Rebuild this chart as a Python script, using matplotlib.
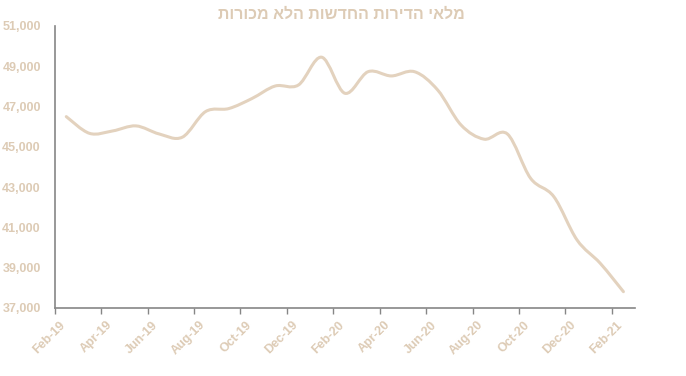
import matplotlib
matplotlib.use("Agg")
import matplotlib.pyplot as plt
import numpy as np
from matplotlib.path import Path
from matplotlib.patches import PathPatch

title = "מלאי הדירות החדשות הלא מכורות"

months = ["Feb-19", "Mar-19", "Apr-19", "May-19", "Jun-19", "Jul-19", "Aug-19",
          "Sep-19", "Oct-19", "Nov-19", "Dec-19", "Jan-20", "Feb-20", "Mar-20",
          "Apr-20", "May-20", "Jun-20", "Jul-20", "Aug-20", "Sep-20", "Oct-20",
          "Nov-20", "Dec-20", "Jan-21", "Feb-21"]
values = [46500, 45670, 45790, 46040, 45640, 45480, 46750, 46900, 47400, 48020,
          48070, 49450, 47660, 48730, 48520, 48730, 47820, 46090, 45380, 45640,
          43440, 42530, 40380, 39220, 37810]
yticks = [37000, 39000, 41000, 43000, 45000, 47000, 49000, 51000]

LINE = "#E3D2BE"
TEXT = "#DDCBB5"
SPINE = "#868686"

fig = plt.figure(figsize=(6.86, 3.76), dpi=100)
ax = fig.add_axes([0.0797, 0.1809, 0.8460, 0.7500])

x = np.arange(len(values), dtype=float)
y = np.array(values, dtype=float)

# Smoothed line (Catmull-Rom style Bezier, like spreadsheet smoothing)
verts = [(x[0], y[0])]
codes = [Path.MOVETO]
n = len(x)
for i in range(n - 1):
    p0 = (x[i - 1], y[i - 1]) if i > 0 else (x[i], y[i])
    p1 = (x[i], y[i])
    p2 = (x[i + 1], y[i + 1])
    p3 = (x[i + 2], y[i + 2]) if i + 2 < n else (x[i + 1], y[i + 1])
    c1 = (p1[0] + (p2[0] - p0[0]) / 6, p1[1] + (p2[1] - p0[1]) / 6)
    c2 = (p2[0] - (p3[0] - p1[0]) / 6, p2[1] - (p3[1] - p1[1]) / 6)
    verts += [c1, c2, p2]
    codes += [Path.CURVE4] * 3
patch = PathPatch(Path(verts, codes), facecolor="none", edgecolor=LINE,
                  lw=2.2, capstyle="round", joinstyle="round")
ax.add_patch(patch)

ax.set_xlim(-0.5, len(values) - 0.5)
ax.set_ylim(37000, 51000)

tick_pos = np.arange(-0.5, len(values) - 0.5, 2)
ax.set_xticks(tick_pos)
ax.set_xticklabels([])
for p in tick_pos:
    ax.annotate(months[int(p + 0.5)], xy=(p, 0), xycoords=("data", "axes fraction"),
                xytext=(6.5, -11), textcoords="offset points", rotation=45,
                ha="right", va="center", rotation_mode="anchor", color=TEXT,
                fontsize=9, fontweight="bold", family="Liberation Sans",
                annotation_clip=False)
ax.set_yticks(yticks)
ax.set_yticklabels([f"{v:,}" for v in yticks], color=TEXT, fontsize=9,
                   fontweight="bold", family="Liberation Sans")
ax.tick_params(axis="y", length=0, pad=10)
ax.tick_params(axis="x", length=4, width=1, color=SPINE, direction="out", pad=4)

for s in ["top", "right"]:
    ax.spines[s].set_visible(False)
for s in ["left", "bottom"]:
    ax.spines[s].set_color(SPINE)
    ax.spines[s].set_linewidth(1.2)

fig.text(0.497, 0.962, title[::-1], ha="center", va="center", color=TEXT,
         fontsize=11.5, fontweight="bold", family=["Liberation Sans", "DejaVu Sans"])

fig.savefig("out.png", dpi=100)
